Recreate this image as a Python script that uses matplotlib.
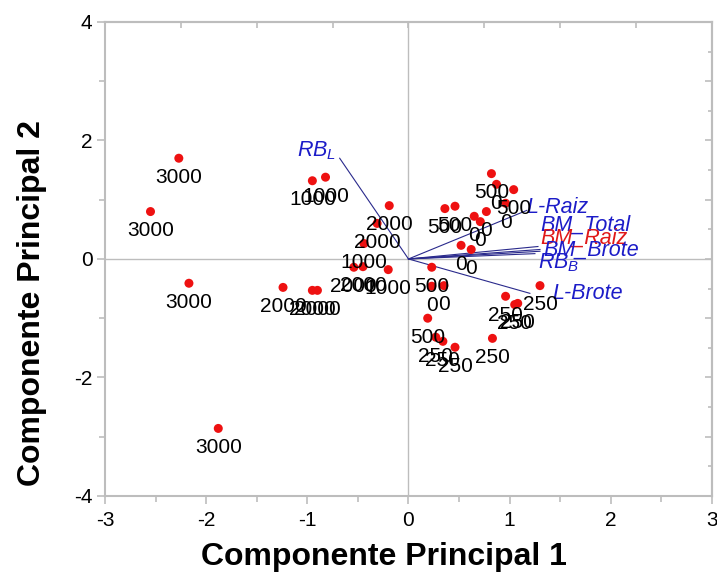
import numpy as np
import matplotlib
matplotlib.use('Agg')
from matplotlib import pyplot as plt

plt.rcParams['font.family'] = ['Liberation Sans', 'DejaVu Sans']
plt.rcParams['mathtext.fontset'] = 'custom'
plt.rcParams['mathtext.it'] = 'Liberation Sans:italic'
plt.rcParams['mathtext.rm'] = 'Liberation Sans'
plt.rcParams['axes.unicode_minus'] = False

# PCA scores (one dot per sample) and the dose label of each sample
pc1 = [-2.27, -2.55, -2.17, -1.88,
       -0.95, -0.82, -0.19, -0.31, -0.44, -0.54, -0.45, -0.20,
       -1.24, -0.95, -0.90,
       0.82, 0.87, 1.04, 0.96, 0.36, 0.46, 0.77, 0.65, 0.71, 0.52, 0.62,
       0.23, 0.23, 0.35, 0.19,
       0.27, 0.34, 0.46, 0.96, 1.05, 1.08, 1.30, 0.83]
pc2 = [1.70, 0.80, -0.41, -2.86,
       1.32, 1.38, 0.90, 0.60, 0.26, -0.14, -0.13, -0.18,
       -0.48, -0.53, -0.53,
       1.44, 1.26, 1.17, 0.94, 0.85, 0.89, 0.80, 0.72, 0.63, 0.23, 0.16,
       -0.14, -0.46, -0.45, -1.00,
       -1.32, -1.39, -1.49, -0.63, -0.77, -0.75, -0.45, -1.34]
dose = ['3000', '3000', '3000', '3000',
        '1000', '1000', '2000', '2000', '1000', '2000', '2000', '1000',
        '2000', '2000', '2000',
        '500', '0', '500', '0', '500', '500', '0', '0', '0', '0', '0',
        '500', '0', '0', '500',
        '250', '250', '250', '250', '250', '250', '250', '250']

# loadings (vectors)
var_names = [r'$RB_L$', 'L-Raiz', 'BM_Total', 'BM_Raiz', 'BM_Brote', r'$RB_B$', 'L-Brote']
load1 = [-0.68, 1.17, 1.28, 1.30, 1.30, 1.25, 1.20]
load2 = [1.70, 0.82, 0.21, 0.16, 0.13, 0.09, -0.58]
var_colors = ['#1c1cc8', '#1c1cc8', '#1c1cc8', '#e01818', '#1c1cc8', '#1c1cc8', '#1c1cc8']

fig = plt.figure(figsize=(7.17, 5.79), dpi=100)
ax = fig.add_axes([0.1464, 0.1434, 0.8466, 0.8187])

frame = '#bdbdbd'
ax.axhline(0, color=frame, lw=1, zorder=1)
ax.axvline(0, color=frame, lw=1, zorder=1)

# vectors
for x, y in zip(load1, load2):
    ax.plot([0, x], [0, y], color='#2a2a8c', lw=0.8, zorder=2)

# label offsets in pixels (dx, dy) and alignment
lab_off = [(-4, 8, 'right'), (0, 3, 'left'), (2, 21, 'left'), (0, 11, 'left'),
           (3, 1, 'left'), (3, -9, 'left'), (22, 0, 'left')]
for name, x, y, c, (dx, dy, ha) in zip(var_names, load1, load2, var_colors, lab_off):
    ax.annotate(name, (x, y), xytext=(dx, dy), textcoords='offset pixels',
                ha=ha, va='center', fontsize=15.5, color=c, style='italic', zorder=3)

# scores
ax.scatter(pc1, pc2, s=42, color='#ee1111', edgecolors='none', zorder=4)
for x, y, lab in zip(pc1, pc2, dose):
    ax.annotate(lab, (x, y), xytext=(0, -19), textcoords='offset pixels',
                ha='center', va='center', fontsize=15, color='black', zorder=5)

ax.set_xlim(-3, 3)
ax.set_ylim(-4, 4)
ax.set_xticks(np.arange(-3, 3.01, 1))
ax.set_xticks(np.arange(-2.5, 3, 1), minor=True)
ax.set_yticks(np.arange(-4, 4.01, 2))
ax.set_yticks(np.arange(-3, 4, 2), minor=True)
ax.tick_params(which='major', length=6, width=1.2, color=frame, labelsize=15, pad=3)
ax.tick_params(axis='x', which='major', pad=5)
ax.tick_params(which='minor', length=4, width=1.2, color=frame)
ax.tick_params(top=False, right=False)
for sp in ax.spines.values():
    sp.set_color(frame)
    sp.set_linewidth(1.5)

top = ax.secondary_xaxis('top')
top.set_xticks(np.arange(-2.25, 2.9, 0.75))
top.tick_params(direction='in', length=4, width=1.2, color=frame, labeltop=False)
top.spines['top'].set_color(frame)
top.spines['top'].set_linewidth(1.5)

right = ax.secondary_yaxis('right')
right.set_yticks(np.arange(-3, 4, 1))
right.set_yticks(np.arange(-3.5, 4, 1), minor=True)
right.tick_params(which='major', direction='in', length=5, width=1.2, color=frame, labelright=False)
right.tick_params(which='minor', direction='in', length=3, width=1.2, color=frame)
right.spines['right'].set_color(frame)
right.spines['right'].set_linewidth(1.5)

ax.set_xlabel('Componente Principal 1', fontsize=23, fontweight='bold')
ax.set_ylabel('Componente Principal 2', fontsize=23, fontweight='bold')
ax.xaxis.set_label_coords(0.46, -0.097)
ax.yaxis.set_label_coords(-0.095, 0.407)

plt.savefig('out.png', dpi=100)
plt.close()
